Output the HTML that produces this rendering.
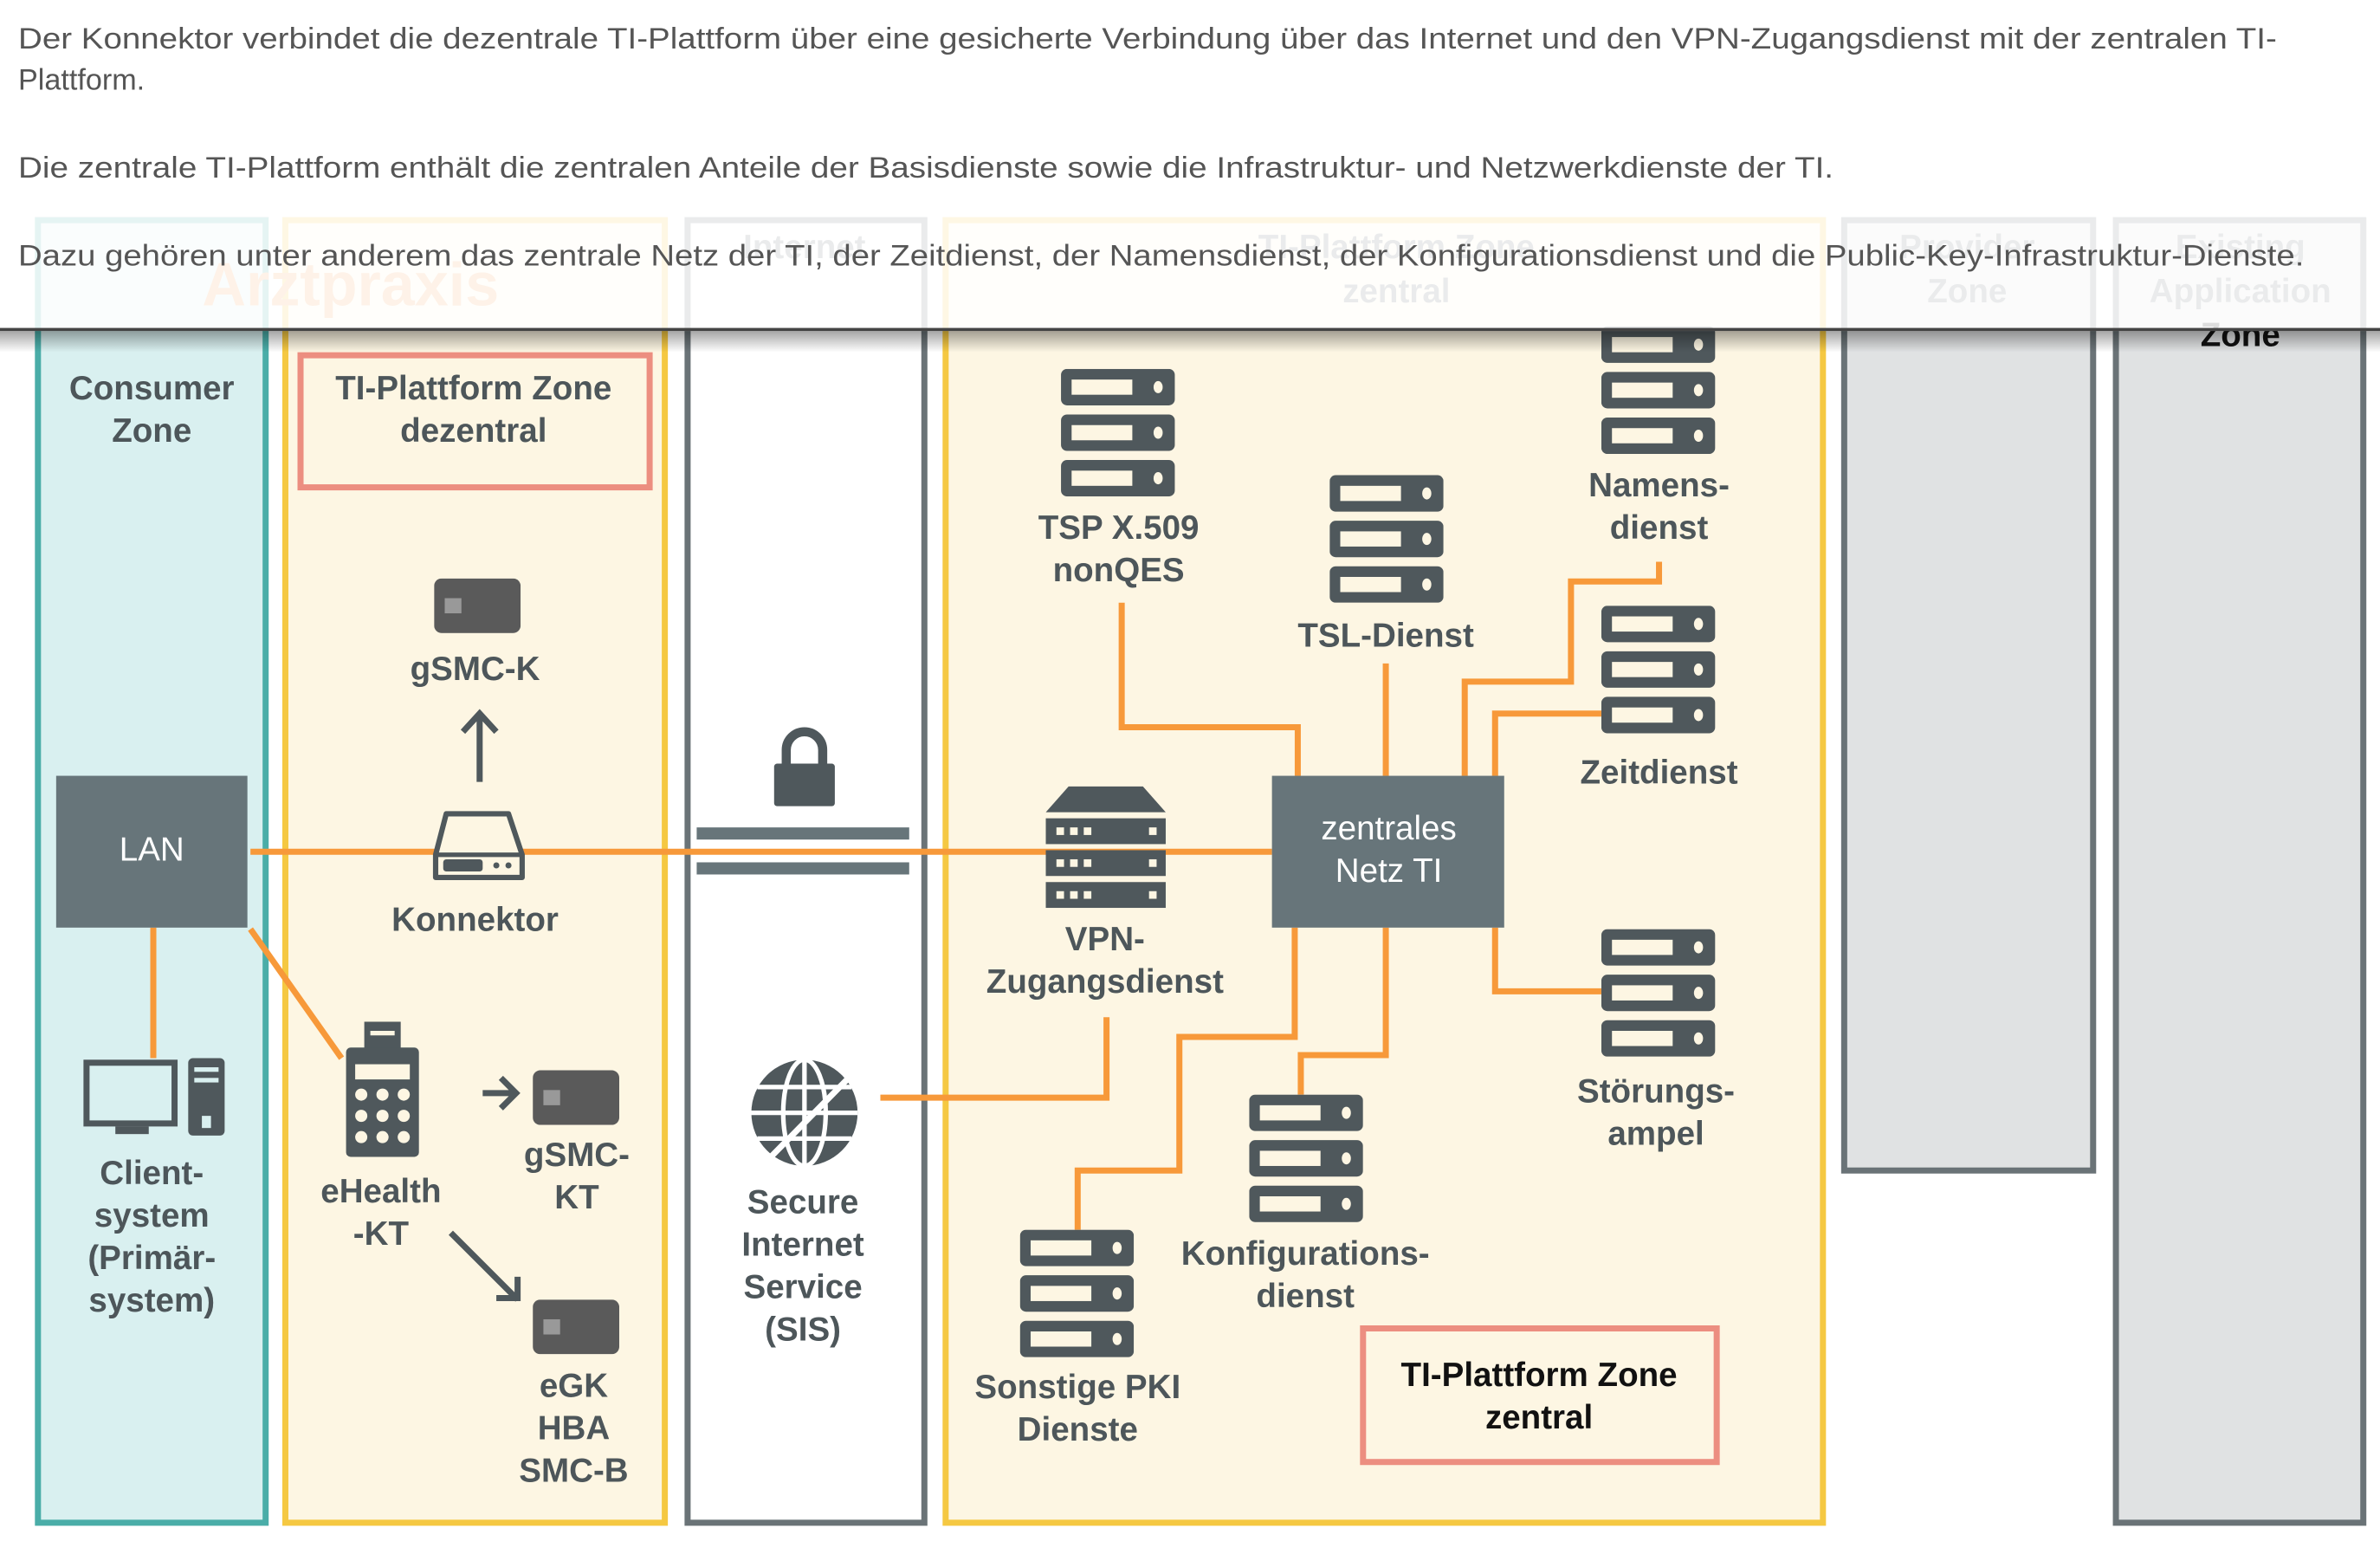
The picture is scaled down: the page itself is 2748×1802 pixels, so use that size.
<!DOCTYPE html>
<html><head><meta charset="utf-8"><style>
html,body{margin:0;padding:0;background:#fff;}
svg{display:block;}
text{font-family:"Liberation Sans",sans-serif;}
.l{fill:#4d565a;font-size:22px;font-weight:bold;text-anchor:middle;}
.o{stroke:#f7993a;stroke-width:4;fill:none;}
</style></head><body>
<svg width="2748" height="1802" viewBox="0 0 1568 1028.2" xmlns="http://www.w3.org/2000/svg">
<defs>
<symbol id="srv" viewBox="0 0 75 84" width="75" height="84">
<g fill="#4f585c">
<rect x="0" y="0" width="75" height="24" rx="4"/><rect x="0" y="30" width="75" height="24" rx="4"/><rect x="0" y="60" width="75" height="24" rx="4"/>
</g>
<g fill="#fdf6e3">
<rect x="7" y="7" width="40" height="10"/><rect x="7" y="37" width="40" height="10"/><rect x="7" y="67" width="40" height="10"/>
<ellipse cx="64" cy="12" rx="3" ry="4"/><ellipse cx="64" cy="42" rx="3" ry="4"/><ellipse cx="64" cy="72" rx="3" ry="4"/>
</g>
</symbol>
<symbol id="card" viewBox="0 0 57 36" width="57" height="36">
<rect width="57" height="36" rx="5" fill="#5a5a5a"/><rect x="7" y="13" width="11" height="10" fill="#999"/>
</symbol>
</defs>
<rect width="1568" height="1029" fill="#fff"/>
<!-- zones -->
<rect x="25" y="145" width="150" height="858" fill="#d9f0f0" stroke="#4aada8" stroke-width="4"/>
<rect x="188" y="145" width="250" height="858" fill="#fdf6e3" stroke="#f5c842" stroke-width="4"/>
<rect x="453" y="145" width="156" height="858" fill="#fff" stroke="#6a7377" stroke-width="4"/>
<rect x="623" y="145" width="578" height="858" fill="#fdf6e3" stroke="#f5c842" stroke-width="4"/>
<rect x="1215" y="145" width="164" height="626" fill="#e0e2e3" stroke="#6a7377" stroke-width="4"/>
<rect x="1394" y="145" width="163" height="858" fill="#e0e2e3" stroke="#6a7377" stroke-width="4"/>
<!-- headers -->
<text x="231" y="201" font-size="40" fill="#f4a35c" text-anchor="middle" font-weight="bold">Arztpraxis</text>
<text x="530" y="170" class="l" fill="#6a7377" style="fill:#6a7377">Internet</text>
<text x="920" y="170" class="l" style="fill:#6a7377">TI-Plattform Zone</text>
<text x="920" y="199" class="l" style="fill:#6a7377">zentral</text>
<text x="1296" y="170" class="l" style="fill:#6a7377">Provider</text>
<text x="1296" y="199" class="l" style="fill:#6a7377">Zone</text>
<text x="1476" y="170" class="l" style="fill:#6a7377">Existing</text>
<text x="1476" y="199" class="l" style="fill:#6a7377">Application</text>
<text x="1476" y="228" class="l" style="fill:#111">Zone</text>
<!-- connectors -->
<path class="o" d="M165 561H838"/>
<path class="o" d="M101 611V697"/>
<path class="o" d="M165 612L225 697"/>
<path class="o" d="M580 723H729V670"/>
<path class="o" d="M739 397V479H855V511"/>
<path class="o" d="M913 437V511"/>
<path class="o" d="M1093 370V383H1035V449H965V511"/>
<path class="o" d="M1055 470H985V511"/>
<path class="o" d="M985 611V653H1055"/>
<path class="o" d="M913 611V695H857V721"/>
<path class="o" d="M853 611V683H777V771H710V810"/>
<!-- consumer -->
<text x="100" y="263" class="l">Consumer</text><text x="100" y="291" class="l">Zone</text>
<rect x="37" y="511" width="126" height="100" fill="#67757a"/>
<text x="100" y="567" font-size="22" fill="#fff" text-anchor="middle">LAN</text>
<rect x="57" y="700" width="58" height="40" fill="none" stroke="#4f585c" stroke-width="4"/>
<rect x="76" y="742" width="22" height="5" fill="#4f585c"/>
<rect x="124" y="697" width="24" height="51" rx="3" fill="#4f585c"/>
<rect x="128" y="703" width="16" height="3" fill="#d9f0f0"/><rect x="128" y="710" width="16" height="3" fill="#d9f0f0"/><rect x="133" y="735" width="6" height="8" fill="#d9f0f0"/>
<text x="100" y="780" class="l">Client-</text><text x="100" y="808" class="l">system</text><text x="100" y="836" class="l">(Primär-</text><text x="100" y="864" class="l">system)</text>
<!-- dezentral -->
<rect x="198" y="234" width="230" height="87" fill="none" stroke="#ec8e80" stroke-width="4"/>
<text x="312" y="263" class="l">TI-Plattform Zone</text><text x="312" y="291" class="l">dezentral</text>
<use href="#card" x="286" y="381"/>
<text x="313" y="448" class="l">gSMC-K</text>
<path d="M316 515V470M305 482L316 470L327 482" stroke="#4f585c" stroke-width="4" fill="none"/>
<path d="M294 536H335L344 563V578H287V563Z" fill="#fdf6e3" stroke="#4f585c" stroke-width="3.5" stroke-linejoin="round"/>
<path d="M288 563H343" stroke="#4f585c" stroke-width="3"/>
<rect x="292" y="566" width="26" height="8" rx="2" fill="#4f585c"/>
<circle cx="327" cy="570" r="2" fill="#4f585c"/><circle cx="335" cy="570" r="2" fill="#4f585c"/>
<text x="313" y="613" class="l">Konnektor</text>
<rect x="240" y="673" width="24" height="20" fill="#4f585c"/><rect x="244" y="679" width="16" height="3" fill="#fdf6e3"/>
<rect x="228" y="690" width="48" height="72" rx="3" fill="#4f585c"/>
<rect x="234" y="701" width="36" height="10" fill="#fdf6e3"/>
<g fill="#fdf6e3"><circle cx="238" cy="721" r="4"/><circle cx="252" cy="721" r="4"/><circle cx="266" cy="721" r="4"/><circle cx="238" cy="735" r="4"/><circle cx="252" cy="735" r="4"/><circle cx="266" cy="735" r="4"/><circle cx="238" cy="749" r="4"/><circle cx="252" cy="749" r="4"/><circle cx="266" cy="749" r="4"/></g>
<text x="251" y="792" class="l">eHealth</text><text x="251" y="820" class="l">-KT</text>
<path d="M318 720H340M330 710L340 720L330 730" stroke="#4f585c" stroke-width="4" fill="none"/>
<use href="#card" x="351" y="705"/>
<text x="380" y="768" class="l">gSMC-</text><text x="380" y="796" class="l">KT</text>
<path d="M297 812L341 856M327 855H341V841" stroke="#4f585c" stroke-width="4" fill="none"/>
<use href="#card" x="351" y="856"/>
<text x="378" y="920" class="l">eGK</text><text x="378" y="948" class="l">HBA</text><text x="378" y="976" class="l">SMC-B</text>
<!-- internet -->
<path d="M518 505V494a12 12 0 0 1 24 0V505" stroke="#4f585c" stroke-width="6" fill="none"/>
<rect x="510" y="503" width="40" height="28" rx="2" fill="#4f585c"/>
<rect x="459" y="545" width="140" height="8" fill="#67757a"/>
<rect x="459" y="568" width="140" height="8" fill="#67757a"/>
<circle cx="530" cy="733" r="35" fill="#4f585c"/>
<g stroke="#fff" stroke-width="3" fill="none"><ellipse cx="530" cy="733" rx="14" ry="35"/><path d="M495 733H565M499 716H561M499 750H561M530 698V768"/></g>
<path d="M500 770L567 702" stroke="#fff" stroke-width="4"/>
<text x="529" y="799" class="l">Secure</text><text x="529" y="827" class="l">Internet</text><text x="529" y="855" class="l">Service</text><text x="529" y="883" class="l">(SIS)</text>
<!-- zentral -->
<path d="M704 518H753L768 535H689Z" fill="#4f585c"/>
<g fill="#4f585c"><rect x="689" y="539" width="79" height="17"/><rect x="689" y="560" width="79" height="17"/><rect x="689" y="581" width="79" height="17"/></g>
<g fill="#fdf6e3"><rect x="696" y="545" width="5" height="5"/><rect x="705" y="545" width="5" height="5"/><rect x="714" y="545" width="5" height="5"/><rect x="757" y="545" width="5" height="5"/><rect x="696" y="566" width="5" height="5"/><rect x="705" y="566" width="5" height="5"/><rect x="714" y="566" width="5" height="5"/><rect x="757" y="566" width="5" height="5"/><rect x="696" y="587" width="5" height="5"/><rect x="705" y="587" width="5" height="5"/><rect x="714" y="587" width="5" height="5"/><rect x="757" y="587" width="5" height="5"/></g>
<text x="728" y="626" class="l">VPN-</text><text x="728" y="654" class="l">Zugangsdienst</text>
<rect x="838" y="511" width="153" height="100" fill="#67757a"/>
<text x="915" y="553" font-size="22" fill="#fff" text-anchor="middle">zentrales</text>
<text x="915" y="581" font-size="22" fill="#fff" text-anchor="middle">Netz TI</text>
<use href="#srv" x="699" y="243"/><text x="737" y="355" class="l">TSP X.509</text><text x="737" y="383" class="l">nonQES</text>
<use href="#srv" x="876" y="313"/><text x="913" y="426" class="l">TSL-Dienst</text>
<use href="#srv" x="1055" y="215"/><text x="1093" y="327" class="l">Namens-</text><text x="1093" y="355" class="l">dienst</text>
<use href="#srv" x="1055" y="399"/><text x="1093" y="516" class="l">Zeitdienst</text>
<use href="#srv" x="1055" y="612"/><text x="1091" y="726" class="l">Störungs-</text><text x="1091" y="754" class="l">ampel</text>
<use href="#srv" x="823" y="721"/><text x="860" y="833" class="l">Konfigurations-</text><text x="860" y="861" class="l">dienst</text>
<use href="#srv" x="672" y="810"/><text x="710" y="921" class="l">Sonstige PKI</text><text x="710" y="949" class="l">Dienste</text>
<rect x="898" y="875" width="233" height="88" fill="none" stroke="#ec8e80" stroke-width="4"/>
<text x="1014" y="913" class="l" style="fill:#111">TI-Plattform Zone</text><text x="1014" y="941" class="l" style="fill:#111">zentral</text>
<!-- overlay -->
<defs><linearGradient id="sh" x1="0" y1="0" x2="0" y2="1"><stop offset="0" stop-color="#000" stop-opacity="0.35"/><stop offset="1" stop-color="#000" stop-opacity="0"/></linearGradient></defs>
<rect x="0" y="0" width="1568" height="218" fill="#fff" fill-opacity="0.86"/>
<rect x="0" y="216" width="1568" height="2" fill="#444"/>
<rect x="0" y="218" width="1568" height="14" fill="url(#sh)"/>
<g font-size="19.5" fill="#555">
<text x="12" y="32" textLength="1488" lengthAdjust="spacingAndGlyphs">Der Konnektor verbindet die dezentrale TI-Plattform über eine gesicherte Verbindung über das Internet und den VPN-Zugangsdienst mit der zentralen TI-</text>
<text x="12" y="59">Plattform.</text>
<text x="12" y="117" textLength="1196" lengthAdjust="spacingAndGlyphs">Die zentrale TI-Plattform enthält die zentralen Anteile der Basisdienste sowie die Infrastruktur- und Netzwerkdienste der TI.</text>
<text x="12" y="175" textLength="1506" lengthAdjust="spacingAndGlyphs">Dazu gehören unter anderem das zentrale Netz der TI, der Zeitdienst, der Namensdienst, der Konfigurationsdienst und die Public-Key-Infrastruktur-Dienste.</text>
</g>
</svg>
</body></html>
